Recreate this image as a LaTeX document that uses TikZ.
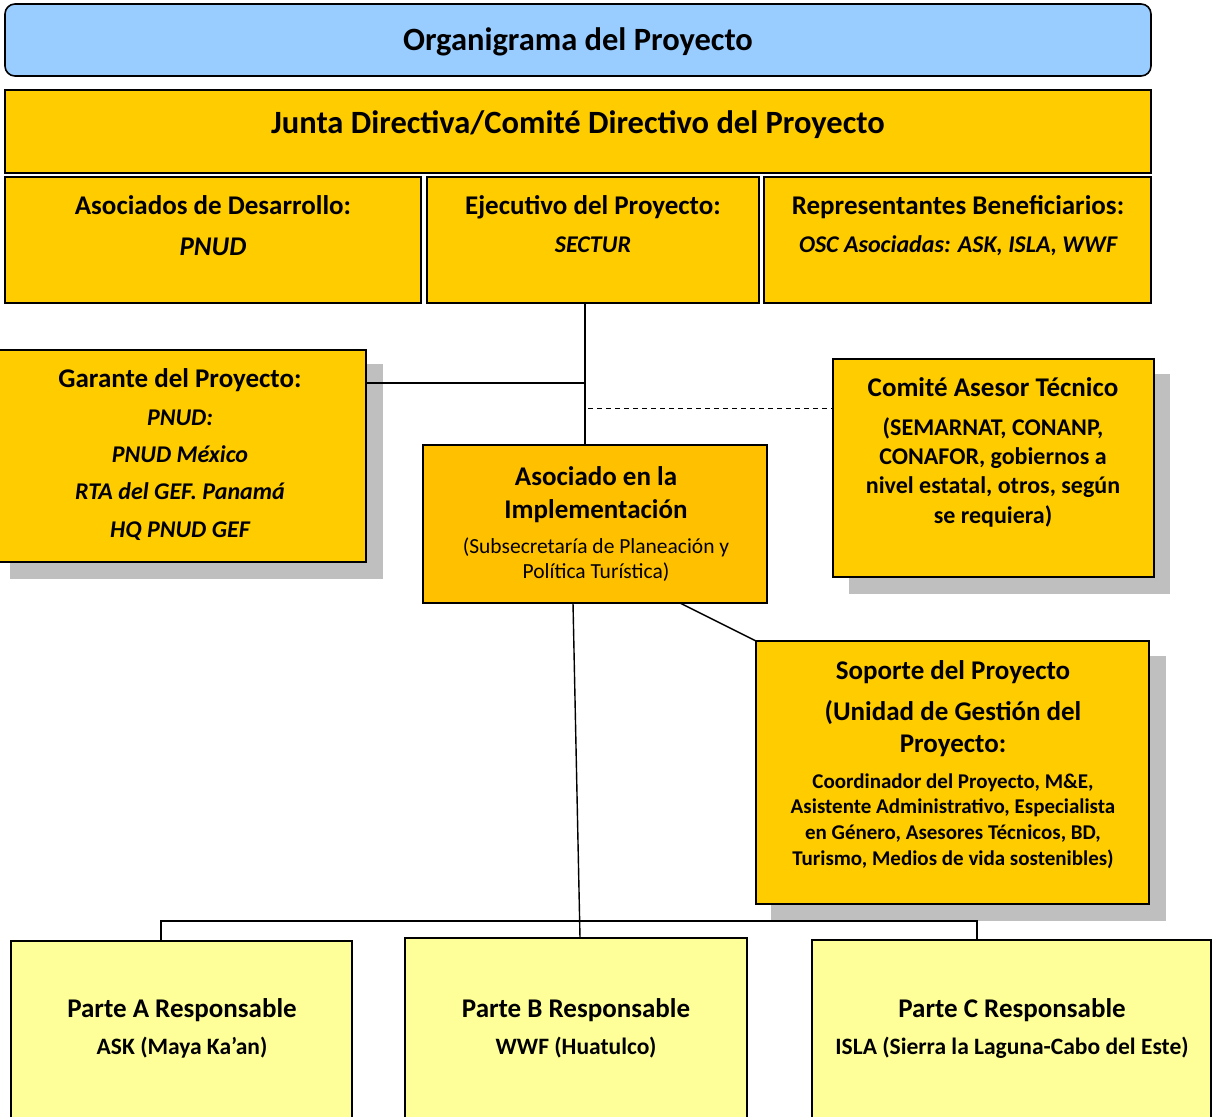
\documentclass[tikz,border=0pt]{standalone}
\usepackage{fontspec}
\setmainfont{Carlito}
\definecolor{ttlblue}{HTML}{99CCFF}
\definecolor{gold}{HTML}{FFCC00}
\definecolor{gold2}{HTML}{FFC000}
\definecolor{lyel}{HTML}{FFFF99}
\definecolor{shad}{HTML}{BFBFBF}
\newcommand\fsz[1]{\fontsize{#1}{#1}\selectfont}
\tikzset{
  box/.style={draw=black, line width=1.6pt, inner sep=0pt, outer sep=0pt},
  txt/.style={inner sep=0pt, anchor=base, font=\bfseries},
  conn/.style={draw=black, line width=1.4pt},
}
\begin{document}
\begin{tikzpicture}[x=1pt,y=-1pt]
\useasboundingbox (0,0) rectangle (1212,1116);
% shadows
\fill[shad] (10,364) rectangle (383,579);
\fill[shad] (849,374) rectangle (1170,594);
\fill[shad] (771,656) rectangle (1166,921);
% boxes
\node[box, fill=ttlblue, rounded corners=10pt, minimum width=1146pt, minimum height=72pt] (title) at (578,40) {};
\node[box, fill=gold, minimum width=1146pt, minimum height=83pt] (junta) at (578,131.5) {};
\node[box, fill=gold, minimum width=416pt, minimum height=126pt] (asoc) at (213,240) {};
\node[box, fill=gold, minimum width=332pt, minimum height=126pt] (ejec) at (593,240) {};
\node[box, fill=gold, minimum width=387pt, minimum height=126pt] (repr) at (957.5,240) {};
\node[box, fill=gold, minimum width=368pt, minimum height=212pt] (gar) at (182,456) {};
\node[box, fill=gold2, line width=2.4pt, minimum width=344pt, minimum height=158pt] (aip) at (595,524) {};
\node[box, fill=gold, minimum width=321pt, minimum height=218pt] (com) at (993.5,468) {};
\node[box, fill=gold, minimum width=393pt, minimum height=263pt] (sop) at (952.5,772.5) {};
\node[box, fill=lyel, minimum width=341pt, minimum height=190pt] (pa) at (181.5,1036) {};
\node[box, fill=lyel, minimum width=342pt, minimum height=190pt] (pb) at (576,1033) {};
\node[box, fill=lyel, minimum width=399pt, minimum height=190pt] (pc) at (1011.5,1035) {};
% helper coordinates
\coordinate (j1) at (585,383);
\coordinate (j2) at (588,408);
\coordinate (c1) at (680,0);
\coordinate (c2) at (573,0);
\coordinate (c3) at (580,0);
\coordinate (ca) at (161,0);
\coordinate (cc) at (977,0);
\coordinate (bus) at (0,921);
% connectors
\draw[conn] (ejec.south -| j1) -- (aip.north -| j1);
\draw[conn] (gar.east |- j1) -- (j1);
\draw[conn, line width=1pt, dash pattern=on 5pt off 4pt] (j2) -- (com.west |- j2);
\draw[conn] (aip.south -| c1) -- (sop.north west);
\draw[conn] (aip.south -| c2) -- (pb.north -| c3);
\draw[conn] (pa.north -| ca) -- (bus -| ca) -- (bus -| cc) -- (pc.north -| cc);
% texts
\node[txt] (tt) at (578,51) {\fsz{32.5}Organigrama del Proyecto};
\node[txt] (jt) at (578,133) {\fsz{32.5}Junta Directiva/Comité Directivo del Proyecto};
\node[txt] (at1) at (213,214) {\fsz{27}Asociados de Desarrollo:};
\node[txt] (at2) at (213,255) {\fsz{27}\itshape PNUD};
\node[txt] (et1) at (593,214) {\fsz{27}Ejecutivo del Proyecto:};
\node[txt] (et2) at (593,252) {\fsz{24}\itshape SECTUR};
\node[txt] (rt1) at (958,214) {\fsz{27}Representantes Beneficiarios:};
\node[txt] (rt2) at (958,252) {\fsz{24}\itshape OSC Asociadas: ASK, ISLA, WWF};
\node[txt] (gt1) at (180,387) {\fsz{27}Garante del Proyecto:};
\node[txt] (gt2) at (180,425) {\fsz{24}\itshape PNUD:};
\node[txt] (gt3) at (180,462) {\fsz{24}\itshape PNUD México};
\node[txt] (gt4) at (180,499) {\fsz{24}\itshape RTA del GEF. Panamá};
\node[txt] (gt5) at (180,537) {\fsz{24}\itshape HQ PNUD GEF};
\node[txt] (it1) at (596,485) {\fsz{27}Asociado en la};
\node[txt] (it2) at (596,518) {\fsz{27}Implementación};
\node[txt, font=\mdseries] (it3) at (596,553) {\fsz{21.5}(Subsecretaría de Planeación y};
\node[txt, font=\mdseries] (it4) at (596,578) {\fsz{21.5}Política Turística)};
\node[txt] (ct1) at (993,396) {\fsz{27}Comité Asesor Técnico};
\node[txt] (ct2) at (993,435) {\fsz{24}(SEMARNAT, CONANP,};
\node[txt] (ct3) at (993,464) {\fsz{24}CONAFOR, gobiernos a};
\node[txt] (ct4) at (993,493) {\fsz{24}nivel estatal, otros, según};
\node[txt] (ct5) at (993,523) {\fsz{24}se requiera)};
\node[txt] (st1) at (953,679) {\fsz{27}Soporte del Proyecto};
\node[txt] (st2) at (953,720) {\fsz{27}(Unidad de Gestión del};
\node[txt] (st3) at (953,752) {\fsz{27}Proyecto:};
\node[txt] (st4) at (953,788) {\fsz{21}Coordinador del Proyecto, M\&E,};
\node[txt] (st5) at (953,813) {\fsz{21}Asistente Administrativo, Especialista};
\node[txt] (st6) at (953,839) {\fsz{21}en Género, Asesores Técnicos, BD,};
\node[txt] (st7) at (953,865) {\fsz{21}Turismo, Medios de vida sostenibles)};
\node[txt] (pa1) at (182,1017) {\fsz{27}Parte A Responsable};
\node[txt] (pa2) at (182,1054) {\fsz{23.5}ASK (Maya Ka’an)};
\node[txt] (pb1) at (576,1017) {\fsz{27}Parte B Responsable};
\node[txt] (pb2) at (576,1054) {\fsz{23.5}WWF (Huatulco)};
\node[txt] (pc1) at (1012,1017) {\fsz{27}Parte C Responsable};
\node[txt] (pc2) at (1012,1054) {\fsz{23.5}ISLA (Sierra la Laguna-Cabo del Este)};
\end{tikzpicture}
\end{document}
